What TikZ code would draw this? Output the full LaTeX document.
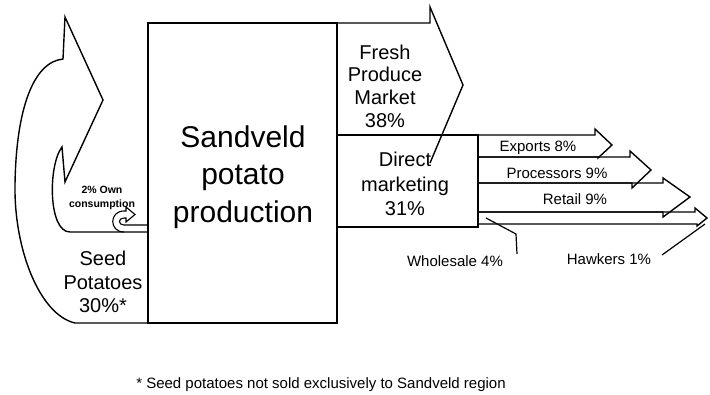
\documentclass[tikz,border=0pt]{standalone}
\usepackage{fontspec}
\setmainfont{Liberation Sans}
\begin{document}
\begin{tikzpicture}[x=1pt,y=-1pt,
  outline/.style={draw=black, line width=1.4pt, line join=miter},
  callout/.style={draw=black, line width=1.2pt},
  lbl/.style={inner sep=0pt, align=center, text=black},
  bigtxt/.style={lbl, font=\fontsize{30}{37.5}\selectfont},
  midtxt/.style={lbl, font=\fontsize{20}{23.5}\selectfont},
  smalltxt/.style={lbl, anchor=base, font=\fontsize{15}{18}\selectfont},
  tinytxt/.style={lbl, font=\bfseries\fontsize{10.5}{13.5}\selectfont}]
\useasboundingbox (0,0) rectangle (710,394);

% seed potatoes returning to production: large curved block arrow
\draw[outline] (148,323) -- (75,323)
  .. controls (40,315) and (14,250) .. (15,185)
  .. controls (16,110) and (33,62) .. (63,59)
  -- (65,17) -- (103,100) -- (65,182) -- (62,147)
  .. controls (48,165) and (48,232) .. (70,232) -- (148,232);

% own consumption: small U-turn block arrow
\draw[outline, line width=1.1pt] (148,225) -- (124,225)
  .. controls (118,225) and (118,218) .. (124,218)
  -- (126,218) -- (126,222) -- (135,214.5) -- (126,207) -- (126,211) -- (124,211)
  .. controls (109,211) and (109,232) .. (124,232);

% production block
\draw[outline] (148,23) rectangle (337,323);

% fresh produce market arrow
\draw[outline] (337,23) -- (430,23) -- (430,7) -- (463,85) -- (430,163);

% direct marketing block
\draw[outline] (337,135) rectangle (478,227);

% direct marketing channels
\draw[outline] (478,135) -- (595,135) -- (595,129) -- (612,145) -- (598,158) -- (598,157) -- (478,157);
\draw[outline] (478,157) -- (630,157) -- (630,151) -- (651,170) -- (632,188) -- (632,183) -- (478,183);
\draw[outline] (478,183) -- (663,183) -- (663,178) -- (690,197) -- (663,217) -- (663,212) -- (478,212);
\draw[outline] (478,212) -- (695,212) -- (695,208) -- (707,218) -- (697,226) -- (697,224) -- (478,224);

% labels
\node[bigtxt] (prod) at (243,177) {Sandveld\\potato\\production};
\node[midtxt, font=\fontsize{20}{22.7}\selectfont] (fresh) at (385,86) {Fresh\\Produce\\Market\\38\%};
\node[midtxt, font=\fontsize{20}{24.5}\selectfont] (direct) at (405,184) {Direct\\marketing\\31\%};
\node[midtxt] (seed) at (103,282) {Seed\\Potatoes\\30\%*};
\node[tinytxt] (own) at (102,198) {2\% Own\\consumption};
\node[smalltxt] (exp) at (538,151) {Exports 8\%};
\node[smalltxt] (proc) at (557,178) {Processors 9\%};
\node[smalltxt] (ret) at (575,204.5) {Retail 9\%};
\node[smalltxt] (whole) at (455,266) {Wholesale 4\%};
\node[smalltxt] (hawk) at (609,264) {Hawkers 1\%};
\node[smalltxt] (note) at (321,388) {* Seed potatoes not sold exclusively to Sandveld region};

% callout leaders
\coordinate (wtip) at (486,218);
\coordinate (wend) at (517,254);
\draw[callout] (wtip) -- (516,234) -- (wend);
\coordinate (htip) at (705,224);
\coordinate (hend) at (662,255);
\draw[callout] (htip) -- (hend);
\end{tikzpicture}
\end{document}
